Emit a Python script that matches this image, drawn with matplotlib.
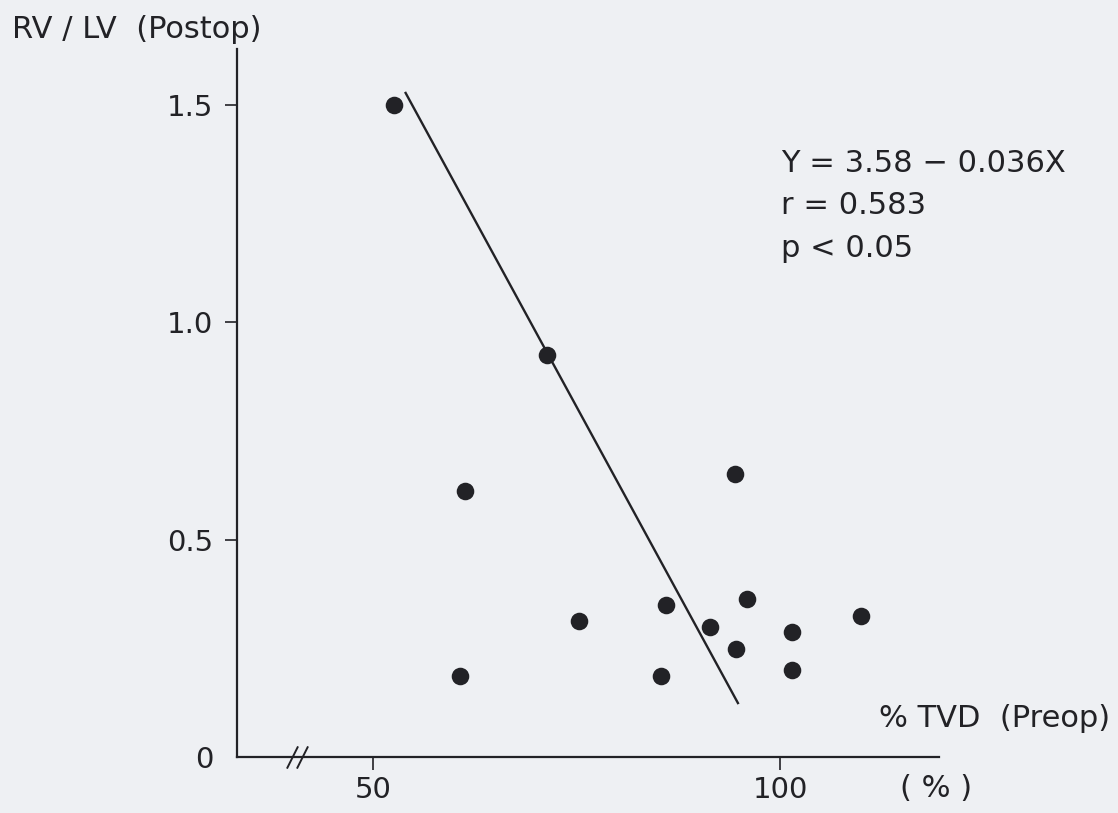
import matplotlib.pyplot as plt

plt.rcParams['font.family'] = ['DejaVu Sans', 'Noto Sans CJK JP']

# %TVD (preop) vs RV/LV (postop)
tvd_preop = [52.6, 71.3, 61.3, 60.7, 75.3, 85.4, 86.0, 91.4, 94.5, 95.9, 94.6, 101.4, 101.4, 109.9]
rvlv_postop = [1.50, 0.924, 0.611, 0.186, 0.313, 0.186, 0.349, 0.299, 0.651, 0.363, 0.248, 0.287, 0.200, 0.324]

# regression line as drawn (end points)
fit_x = [54.0, 94.8]
fit_y = [1.527, 0.124]

y_ticks = [0, 0.5, 1.0, 1.5]
y_tick_labels = ["0", "0.5", "1.0", "1.5"]
x_ticks = [50, 100]
x_tick_labels = ["50", "100"]
break_x = [40.1, 41.3]

stats_lines = ["Y = 3.58 − 0.036X", "r = 0.583", "p < 0.05"]

BG = "#eef0f3"
INK = "#222226"

fig = plt.figure(figsize=(11.18, 8.13), dpi=100, facecolor=BG)
ax = fig.add_axes([0.212, 0.0689, 0.628, 0.8708])
ax.set_facecolor(BG)

ax.plot(fit_x, fit_y, color=INK, lw=1.7)
ax.scatter(tvd_preop, rvlv_postop, s=160, color=INK, zorder=3, linewidths=0)

ax.set_xlim(33.3, 119.5)
ax.set_ylim(0, 1.628)

for side in ["top", "right"]:
    ax.spines[side].set_visible(False)
for side in ["left", "bottom"]:
    ax.spines[side].set_linewidth(1.6)
    ax.spines[side].set_color(INK)

ax.set_yticks(y_ticks, y_tick_labels)
ax.set_xticks(x_ticks, x_tick_labels)
ax.tick_params(axis="both", labelsize=21, colors=INK, width=1.2, length=9)
ax.tick_params(axis="y", pad=8)
ax.tick_params(axis="x", pad=5)
ax.yaxis.get_major_ticks()[0].tick1line.set_visible(False)

# axis break marks
ax.plot(break_x, [0, 0], ls="none", marker=[(-0.5, -1), (0.5, 1)],
        ms=16, mew=1.4, color=INK, clip_on=False, zorder=4)

ax.text(-0.3205, 1.027, "RV / LV  (Postop)", transform=ax.transAxes,
        fontsize=22, color=INK, ha="left", va="center")
ax.text(1.2436, 0.055, "% TVD  (Preop)", transform=ax.transAxes,
        fontsize=22, color=INK, ha="right", va="center")
ax.text(0.9957, -0.044, "( % )", transform=ax.transAxes,
        fontsize=22, color=INK, ha="center", va="center")

for i, line in enumerate(stats_lines):
    ax.text(0.775, 0.839 - i * 0.0605, line, transform=ax.transAxes,
            fontsize=22, color=INK, ha="left", va="center")

fig.savefig("out.png", dpi=100, facecolor=BG)
